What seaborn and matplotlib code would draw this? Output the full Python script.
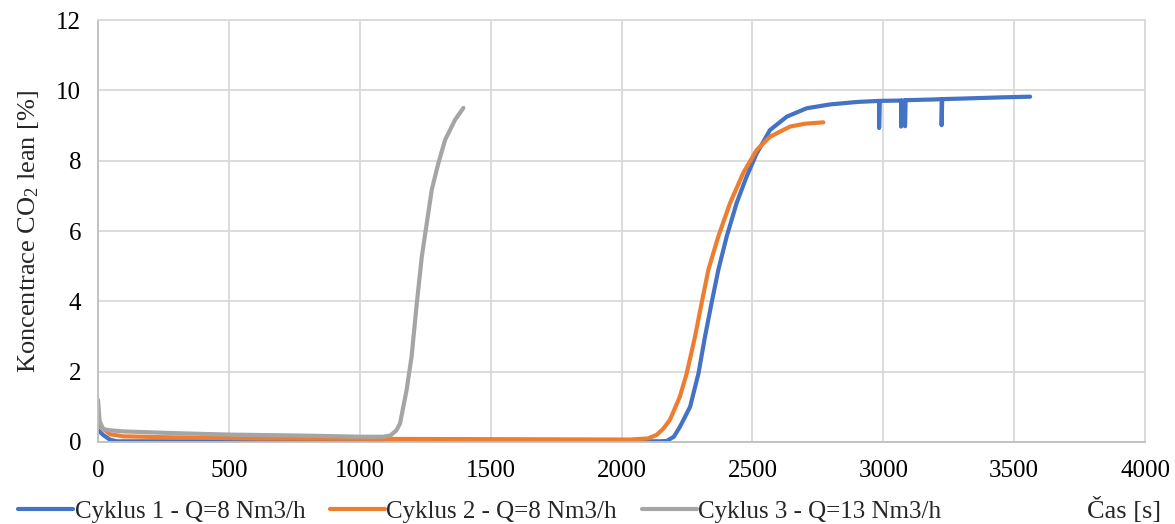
import numpy as np
import pandas as pd
import matplotlib
matplotlib.use('Agg')
import matplotlib.pyplot as plt
import seaborn as sns

# Cyklus 1 - Q=8 Nm3/h (vcetne kratkych propadu)
t1 = [0, 20, 45, 71, 150, 500, 1000, 1500, 2000, 2150, 2173, 2200, 2223, 2262, 2294, 2319, 2344, 2370,
      2402, 2440, 2478, 2516, 2567, 2631, 2707, 2797, 2900, 2984, 2984, 2986, 3068, 3068, 3070, 3083,
      3083, 3085, 3190, 3223, 3223, 3225, 3319, 3450, 3561]
c1 = [0.34, 0.2, 0.07, 0.02, 0.02, 0.02, 0.02, 0.02, 0.02, 0.02, 0.03, 0.15, 0.43, 1.0, 1.95, 3.0, 3.95, 4.9,
      5.85, 6.8, 7.55, 8.2, 8.87, 9.25, 9.49, 9.6, 9.67, 9.70, 8.93, 9.70, 9.71, 8.97, 9.71, 9.71,
      8.98, 9.72, 9.74, 9.75, 9.01, 9.75, 9.77, 9.8, 9.82]

# Cyklus 2 - Q=8 Nm3/h
t2 = [0, 8, 46, 97, 300, 600, 1000, 1500, 2000, 2033, 2100, 2134, 2160, 2185, 2223, 2249, 2281, 2306,
      2332, 2370, 2415, 2465, 2516, 2567, 2644, 2700, 2771]
c2 = [0.55, 0.45, 0.22, 0.16, 0.13, 0.1, 0.09, 0.08, 0.07, 0.07, 0.1, 0.2, 0.38, 0.63, 1.29, 1.95, 3.0, 3.95,
      4.9, 5.85, 6.8, 7.65, 8.3, 8.68, 8.97, 9.05, 9.09]

# Cyklus 3 - Q=13 Nm3/h
t3 = [0, 6, 20, 50, 100, 300, 504, 800, 1000, 1090, 1116, 1140, 1154, 1179, 1198, 1218, 1237, 1256,
      1275, 1300, 1326, 1364, 1396]
c3 = [1.2, 0.6, 0.36, 0.33, 0.3, 0.25, 0.21, 0.18, 0.15, 0.15, 0.18, 0.33, 0.53, 1.48, 2.43, 3.95, 5.27, 6.22,
      7.17, 7.92, 8.59, 9.16, 9.5]

labels = ['Cyklus 1 - Q=8 Nm3/h', 'Cyklus 2 - Q=8 Nm3/h', 'Cyklus 3 - Q=13 Nm3/h']
colors = ['#4472C4', '#ED7D31', '#A5A5A5']

df = pd.concat([
    pd.DataFrame({'cas': t1, 'konc': c1, 'cyklus': labels[0]}),
    pd.DataFrame({'cas': t2, 'konc': c2, 'cyklus': labels[1]}),
    pd.DataFrame({'cas': t3, 'konc': c3, 'cyklus': labels[2]}),
], ignore_index=True)

sns.set_style('whitegrid')
plt.rcParams['font.family'] = ['Liberation Serif', 'DejaVu Serif']
plt.rcParams['mathtext.default'] = 'regular'

fig = plt.figure(figsize=(11.75, 5.24), dpi=100)
ax = fig.add_axes([0.0834, 0.1565, 0.8911, 0.8053])

sns.lineplot(data=df, x='cas', y='konc', hue='cyklus', palette=colors, estimator=None, sort=False,
             linewidth=3.0, ax=ax, legend=False)

ax.set_xlim(0, 4000)
ax.set_ylim(0, 12)
ax.set_xticks(np.arange(0, 4001, 500))
ax.set_yticks(np.arange(0, 13, 2))
ax.grid(True, color='#d9d9d9', linewidth=1.3)
for s in ax.spines.values():
    s.set_color('#d9d9d9')
    s.set_linewidth(1.3)
ax.spines['left'].set_color('#bfbfbf')
ax.spines['bottom'].set_color('#bfbfbf')
ax.tick_params(axis='both', labelsize=18, length=0, colors='#000000')
ax.tick_params(axis='y', pad=12)
ax.tick_params(axis='x', pad=13)
ax.set_xlabel('')
ax.set_ylabel('Koncentrace CO$_2$ lean [%]', fontsize=19, labelpad=11)

handles = [plt.Line2D([], [], color=c, linewidth=3.0) for c in colors]
fig.legend(handles, labels, loc='center left', bbox_to_anchor=(0.005, 0.023), ncol=3, frameon=False,
           fontsize=18, handlelength=2.2, handletextpad=0.05, columnspacing=1.0, borderpad=0)
fig.text(0.957, 0.027, 'Čas [s]', fontsize=19, ha='center', va='center')

fig.savefig('out.png', dpi=100)
